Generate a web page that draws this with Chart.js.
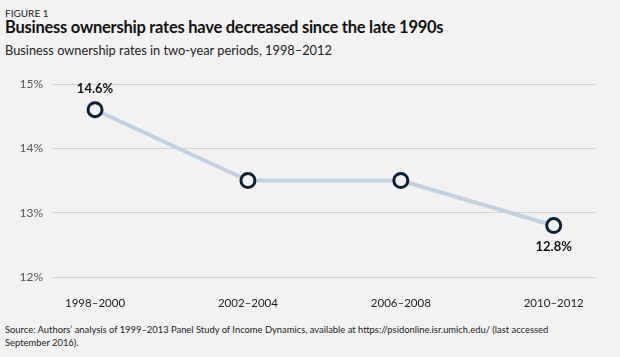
<!DOCTYPE html>
<html><head><meta charset="utf-8">
<script src="https://cdn.jsdelivr.net/npm/chart.js@4"></script>
<style>
html,body{margin:0;padding:0;background:#f2f2f2;}
body{width:620px;height:357px;position:relative;overflow:hidden;font-family:Lato,"Open Sans",sans-serif;color:#111;}
.t{position:absolute;left:5px;white-space:nowrap;}
#fig{top:7px;font-size:10px;color:#222;}
#title{top:17px;font-size:16.5px;font-weight:bold;color:#111;letter-spacing:-0.25px;}
#sub{top:42px;font-size:12.8px;color:#222;}
#src{top:323px;font-size:9.4px;line-height:13px;color:#222;white-space:normal;width:610px;}
canvas{position:absolute;left:0;top:0;}
</style></head>
<body>
<div class="t" id="fig">FIGURE 1</div>
<div class="t" id="title">Business ownership rates have decreased since the late 1990s</div>
<div class="t" id="sub">Business ownership rates in two-year periods, 1998–2012</div>
<div class="t" id="src">Source: Authors’ analysis of 1999–2013 Panel Study of Income Dynamics, available at https://psidonline.isr.umich.edu/ (last accessed<br>September 2016).</div>
<canvas id="c" width="620" height="357"></canvas>
<script>
const categories = ["1998–2000","2002–2004","2006–2008","2010–2012"];
const ownershipRate = [14.6, 13.5, 13.5, 12.8];
const yTicks = [12, 13, 14, 15];
const labelledPoints = {0: "above", 3: "below"};

const labelPlugin = {
  id: 'pointLabels',
  afterDatasetsDraw(chart) {
    const ctx = chart.ctx;
    const meta = chart.getDatasetMeta(0);
    ctx.save();
    ctx.font = 'bold 13px Lato, "Open Sans", sans-serif';
    ctx.fillStyle = '#111';
    ctx.textAlign = 'center';
    ctx.textBaseline = 'middle';
    Object.keys(labelledPoints).forEach(k => {
      const i = +k;
      const p = meta.data[i];
      const txt = ownershipRate[i].toFixed(1) + '%';
      ctx.fillText(txt, p.x, labelledPoints[k] === 'above' ? p.y - 21 : p.y + 21);
    });
    ctx.restore();
  }
};

new Chart(document.getElementById('c'), {
  type: 'line',
  data: {
    datasets: [{
      data: ownershipRate.map((v, i) => ({x: i, y: v})),
      borderColor: '#c3d0dd',
      borderWidth: 4,
      pointRadius: 7,
      pointBorderWidth: 3,
      pointBorderColor: '#0e1f33',
      pointBackgroundColor: '#f2f2f2',
      tension: 0
    }]
  },
  options: {
    responsive: false,
    animation: false,
    layout: {padding: {top: 84, right: 25, left: 0, bottom: 0}},
    plugins: {legend: {display: false}, tooltip: {enabled: false}},
    scales: {
      x: {
        type: 'linear',
        min: -0.275, max: 3.27,
        afterBuildTicks(s) { s.ticks = categories.map((c, i) => ({value: i})); },
        afterFit(s) { s.height = 80; },
        grid: {display: false},
        border: {display: false},
        ticks: {
          padding: 11,
          color: '#222',
          font: {family: 'Lato, "Open Sans", sans-serif', size: 11.5},
          callback: (v) => categories[v]
        }
      },
      y: {
        min: 12, max: 15,
        afterBuildTicks(s) { s.ticks = yTicks.map(v => ({value: v})); },
        afterFit(s) { s.width = 53; },
        grid: {color: '#d3d3d3', lineWidth: 1, drawTicks: false},
        border: {display: false},
        ticks: {
          padding: 10,
          color: '#555',
          font: {family: 'Lato, "Open Sans", sans-serif', size: 12},
          callback: (v) => v + '%'
        }
      }
    }
  },
  plugins: [labelPlugin]
});
</script>
</body></html>
